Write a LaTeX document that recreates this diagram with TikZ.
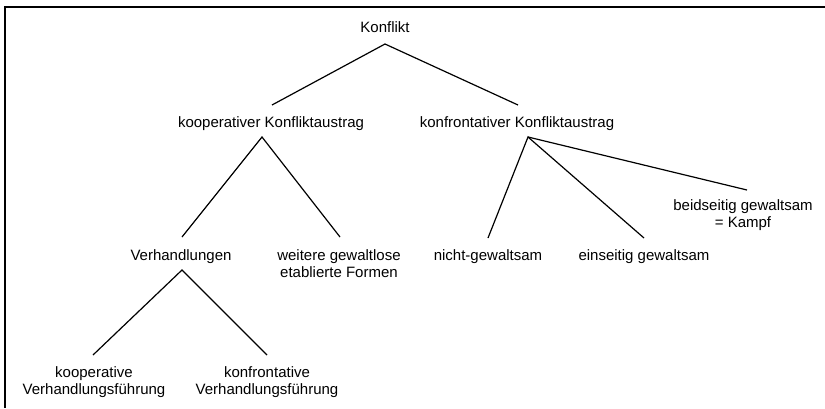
\documentclass[tikz,border=0pt]{standalone}
\usepackage{fontspec}
\setmainfont{Liberation Sans}

\begin{document}
\begin{tikzpicture} [x=1pt,y=-1pt,
  font=\fontsize{15}{17}\selectfont,
  every node/.style={inner sep=0pt, anchor=base, align=center},
  branch/.style={line width=1.2pt}]

%\draw [step=50, dotted] (0,0) grid (825,408);
\useasboundingbox (0,0) rectangle (825,408);
\draw [line width=1.8pt] (825,7) -- (5,7) -- (5,408);

\node (konflikt) at (385,32) {Konflikt};
\node (koop) at (271,127) {kooperativer Konfliktaustrag};
\node (konfr) at (517,127) {konfrontativer Konfliktaustrag};

% two-line nodes sit on the baseline of their last line
\node (verh) at (181,260) {Verhandlungen};
\node (weitere) at (339,277) {weitere gewaltlose\\etablierte Formen};
\node (nicht) at (488,260) {nicht-gewaltsam};
\node (einseitig) at (644,260) {einseitig gewaltsam};
\node (beidseitig) at (743,227) {beidseitig gewaltsam\\= Kampf};

\node (koopverh) at (94,394) {kooperative\\Verhandlungsf\"uhrung};
\node (konfrverh) at (267,394) {konfrontative\\Verhandlungsf\"uhrung};

\coordinate (konflikt-out) at (385,44);
\coordinate (koop-in) at (272,105);
\coordinate (konfr-in) at (518,105);
\coordinate (koop-out) at (262,137);
\coordinate (konfr-out) at (528,137);
\coordinate (verh-in) at (182,237);
\coordinate (weitere-in) at (340,237);
\coordinate (nicht-in) at (488,238);
\coordinate (einseitig-in) at (644,238);
\coordinate (beidseitig-in) at (747,190);
\coordinate (verh-out) at (182,270);
\coordinate (koopverh-in) at (93,355);
\coordinate (konfrverh-in) at (267,355);

\draw [branch] (koop-in) -- (konflikt-out) -- (konfr-in);
\draw [branch] (verh-in) -- (koop-out) -- (weitere-in);
\draw [branch] (nicht-in) -- (konfr-out) -- (einseitig-in);
\draw [branch] (konfr-out) -- (beidseitig-in);
\draw [branch] (koopverh-in) -- (verh-out) -- (konfrverh-in);

\end{tikzpicture}
\end{document}
